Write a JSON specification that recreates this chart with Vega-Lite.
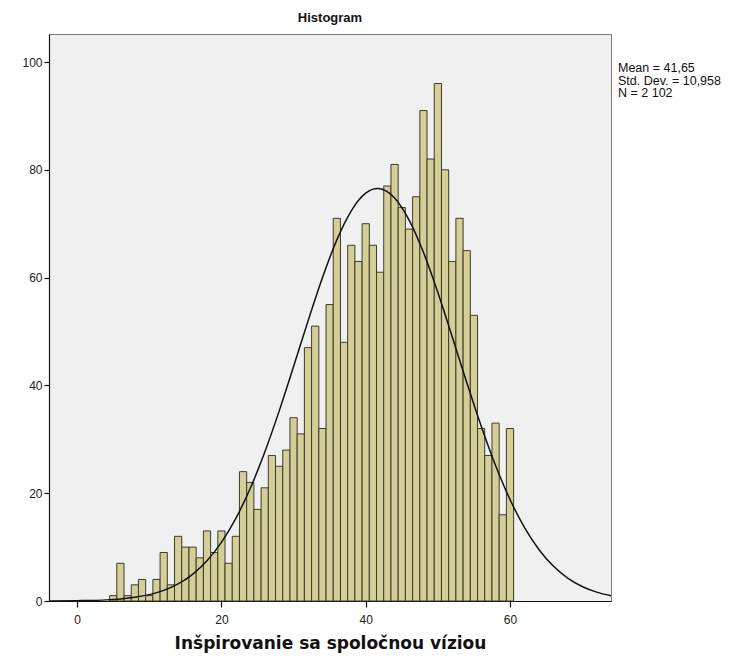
{
  "$schema": "https://vega.github.io/schema/vega-lite/v6.json",
  "autosize": {"type": "none"},
  "width": 562,
  "height": 567,
  "padding": {"left": 49, "top": 34, "right": 133, "bottom": 67},
  "background": "white",
  "title": {"text": "Histogram", "font": "Liberation Sans", "fontSize": 13, "fontWeight": "bold", "color": "#111", "anchor": "middle", "offset": 9},
  "config": {
    "view": {"fill": "#f0f0f0", "stroke": "#7a7a7a", "strokeWidth": 1},
    "axis": {"labelFont": "Liberation Sans", "labelFontSize": 12, "labelColor": "#222", "titleFont": "DejaVu Sans", "grid": false, "domainColor": "#111", "tickColor": "#111", "domainWidth": 1.2, "tickWidth": 1.2}
  },
  "datasets": {
    "bars": [
      {"lo": 4.5, "hi": 5.5, "n": 1}, {"lo": 5.5, "hi": 6.5, "n": 7}, {"lo": 6.5, "hi": 7.5, "n": 1}, {"lo": 7.5, "hi": 8.5, "n": 3},
      {"lo": 8.5, "hi": 9.5, "n": 4}, {"lo": 9.5, "hi": 10.5, "n": 1}, {"lo": 10.5, "hi": 11.5, "n": 4}, {"lo": 11.5, "hi": 12.5, "n": 9},
      {"lo": 12.5, "hi": 13.5, "n": 3}, {"lo": 13.5, "hi": 14.5, "n": 12}, {"lo": 14.5, "hi": 15.5, "n": 10}, {"lo": 15.5, "hi": 16.5, "n": 10},
      {"lo": 16.5, "hi": 17.5, "n": 8}, {"lo": 17.5, "hi": 18.5, "n": 13}, {"lo": 18.5, "hi": 19.5, "n": 9}, {"lo": 19.5, "hi": 20.5, "n": 13},
      {"lo": 20.5, "hi": 21.5, "n": 7}, {"lo": 21.5, "hi": 22.5, "n": 12}, {"lo": 22.5, "hi": 23.5, "n": 24}, {"lo": 23.5, "hi": 24.5, "n": 22},
      {"lo": 24.5, "hi": 25.5, "n": 17}, {"lo": 25.5, "hi": 26.5, "n": 21}, {"lo": 26.5, "hi": 27.5, "n": 27}, {"lo": 27.5, "hi": 28.5, "n": 25},
      {"lo": 28.5, "hi": 29.5, "n": 28}, {"lo": 29.5, "hi": 30.5, "n": 34}, {"lo": 30.5, "hi": 31.5, "n": 31}, {"lo": 31.5, "hi": 32.5, "n": 47},
      {"lo": 32.5, "hi": 33.5, "n": 51}, {"lo": 33.5, "hi": 34.5, "n": 32}, {"lo": 34.5, "hi": 35.5, "n": 55}, {"lo": 35.5, "hi": 36.5, "n": 71},
      {"lo": 36.5, "hi": 37.5, "n": 48}, {"lo": 37.5, "hi": 38.5, "n": 66}, {"lo": 38.5, "hi": 39.5, "n": 63}, {"lo": 39.5, "hi": 40.5, "n": 70},
      {"lo": 40.5, "hi": 41.5, "n": 66}, {"lo": 41.5, "hi": 42.5, "n": 61}, {"lo": 42.5, "hi": 43.5, "n": 77}, {"lo": 43.5, "hi": 44.5, "n": 81},
      {"lo": 44.5, "hi": 45.5, "n": 73}, {"lo": 45.5, "hi": 46.5, "n": 69}, {"lo": 46.5, "hi": 47.5, "n": 75}, {"lo": 47.5, "hi": 48.5, "n": 91},
      {"lo": 48.5, "hi": 49.5, "n": 82}, {"lo": 49.5, "hi": 50.5, "n": 96}, {"lo": 50.5, "hi": 51.5, "n": 80}, {"lo": 51.5, "hi": 52.5, "n": 63},
      {"lo": 52.5, "hi": 53.5, "n": 71}, {"lo": 53.5, "hi": 54.5, "n": 65}, {"lo": 54.5, "hi": 55.5, "n": 53}, {"lo": 55.5, "hi": 56.5, "n": 32},
      {"lo": 56.5, "hi": 57.5, "n": 27}, {"lo": 57.5, "hi": 58.5, "n": 33}, {"lo": 58.5, "hi": 59.5, "n": 16}, {"lo": 59.5, "hi": 60.5, "n": 32}
    ],
    "curve": [
      {"x": -4, "y": 0.013}, {"x": 0, "y": 0.056}, {"x": 2, "y": 0.11}, {"x": 4, "y": 0.209}, {"x": 6, "y": 0.385},
      {"x": 8, "y": 0.686}, {"x": 10, "y": 1.18}, {"x": 12, "y": 1.97}, {"x": 14, "y": 3.17}, {"x": 16, "y": 4.94},
      {"x": 18, "y": 7.45}, {"x": 20, "y": 10.87}, {"x": 22, "y": 15.33}, {"x": 24, "y": 20.92}, {"x": 26, "y": 27.6},
      {"x": 28, "y": 35.23}, {"x": 30, "y": 43.49}, {"x": 32, "y": 51.93}, {"x": 34, "y": 59.98}, {"x": 36, "y": 67.0},
      {"x": 38, "y": 72.4}, {"x": 40, "y": 75.67}, {"x": 41.65, "y": 76.53}, {"x": 42, "y": 76.49}, {"x": 44, "y": 74.79},
      {"x": 46, "y": 70.73}, {"x": 48, "y": 64.7}, {"x": 50, "y": 57.25}, {"x": 52, "y": 48.99}, {"x": 54, "y": 40.55},
      {"x": 56, "y": 32.47}, {"x": 58, "y": 25.14}, {"x": 60, "y": 18.84}, {"x": 62, "y": 13.65}, {"x": 64, "y": 9.56},
      {"x": 66, "y": 6.48}, {"x": 68, "y": 4.25}, {"x": 70, "y": 2.69}, {"x": 72, "y": 1.65}, {"x": 74, "y": 0.98}
    ],
    "stats": [{"t": ["Mean = 41,65", "Std. Dev. = 10,958", "N = 2 102"], "sx": 74, "sy": 100}]
  },
  "layer": [
    {
      "data": {"name": "bars"},
      "mark": {"type": "rect", "fill": "#d4cf98", "stroke": "#3d3b28", "strokeWidth": 1},
      "encoding": {
        "x": {"field": "lo", "type": "quantitative", "scale": {"domain": [-3.9, 74], "nice": false, "zero": false},
              "axis": {"values": [0, 20, 40, 60], "tickSize": 6, "labelPadding": 7, "title": "Inšpirovanie sa spoločnou víziou", "titleFontSize": 17, "titleFontWeight": "bold", "titleColor": "#111", "titlePadding": 10}},
        "x2": {"field": "hi"},
        "y": {"field": "n", "type": "quantitative", "scale": {"domain": [0, 105.2], "nice": false},
              "axis": {"values": [0, 20, 40, 60, 80, 100], "tickSize": 5, "labelPadding": 2, "title": null}},
        "y2": {"datum": 0}
      }
    },
    {
      "data": {"name": "curve"},
      "mark": {"type": "line", "color": "#111", "strokeWidth": 1.5, "interpolate": "monotone", "clip": true},
      "encoding": {
        "x": {"field": "x", "type": "quantitative"},
        "y": {"field": "y", "type": "quantitative"}
      }
    },
    {
      "data": {"name": "stats"},
      "mark": {"type": "text", "align": "left", "baseline": "top", "font": "Liberation Sans", "fontSize": 12.5, "lineHeight": 12.5, "color": "#111", "dx": 7, "dy": 0},
      "encoding": {
        "x": {"field": "sx", "type": "quantitative"},
        "y": {"field": "sy", "type": "quantitative"},
        "text": {"field": "t"}
      }
    }
  ]
}
